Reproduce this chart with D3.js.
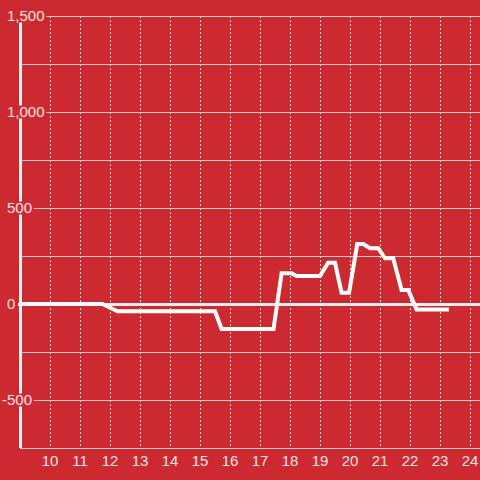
<!DOCTYPE html>
<html>
<head>
<meta charset="utf-8">
<script src="https://cdn.jsdelivr.net/npm/d3@7"></script>
<style>
  html, body { margin: 0; padding: 0; background: #cc2a30; }
  svg { display: block; }
</style>
</head>
<body>
<div id="chart"></div>
<script>
// hours of the day (x) and value (y)
var hours = [9.0, 11.75, 12.25, 15.5, 15.72, 17.45, 17.72, 18.05, 18.22, 19.0, 19.27, 19.5, 19.72, 19.97,
             20.24, 20.44, 20.67, 20.94, 21.17, 21.44, 21.72, 21.94, 22.22, 23.3];
var values = [0, 0, -38, -38, -130, -130, 160, 160, 146, 146, 215, 215, 59, 59,
              312, 312, 290, 290, 238, 238, 73, 73, -28, -28];
var xTicks = [10, 11, 12, 13, 14, 15, 16, 17, 18, 19, 20, 21, 22, 23, 24];
var yTicks = [-500, 0, 500, 1000, 1500];
var yGrid = [-750, -500, -250, 250, 500, 750, 1000, 1250, 1500];

var width = 480, height = 480;
var bg = '#cc2a30';
var font = 'Liberation Sans, Arial, sans-serif';
var margin = {top: 16, left: 20, right: 0, bottom: 32};

var svg = d3.select('#chart').append('svg')
    .attr('width', width)
    .attr('height', height);

svg.append('rect').attr('width', width).attr('height', height).attr('fill', bg);

var x = d3.scaleLinear().domain([9, 24.333]).range([margin.left, width - margin.right]);
var y = d3.scaleLinear().domain([-750, 1500]).range([height - margin.bottom, margin.top]);

// vertical dashed grid
svg.append('g').selectAll('line')
    .data(xTicks)
    .enter().append('line')
    .attr('x1', function (d) { return Math.round(x(d)) + 0.5; })
    .attr('x2', function (d) { return Math.round(x(d)) + 0.5; })
    .attr('y1', y(1500))
    .attr('y2', y(-750))
    .attr('stroke', '#e6e0e0')
    .attr('stroke-width', 1)
    .attr('stroke-dasharray', '2,2');

// horizontal grid
svg.append('g').selectAll('line')
    .data(yGrid)
    .enter().append('line')
    .attr('x1', margin.left)
    .attr('x2', width)
    .attr('y1', function (d) { return Math.round(y(d)) + 0.5; })
    .attr('y2', function (d) { return Math.round(y(d)) + 0.5; })
    .attr('stroke', '#d6cccc')
    .attr('stroke-width', 1);

// y axis line
svg.append('line')
    .attr('x1', margin.left + 0.5).attr('x2', margin.left + 0.5)
    .attr('y1', y(1500)).attr('y2', y(-750))
    .attr('stroke', '#f4eeee')
    .attr('stroke-width', 3);

// zero line
svg.append('line')
    .attr('x1', margin.left - 2).attr('x2', width)
    .attr('y1', Math.round(y(0)) + 0.5).attr('y2', Math.round(y(0)) + 0.5)
    .attr('stroke', '#f4eeee')
    .attr('stroke-width', 3);

// data line
var line = d3.line()
    .x(function (d, i) { return x(hours[i]); })
    .y(function (d) { return y(d); });

svg.append('path')
    .datum(values)
    .attr('d', line)
    .attr('fill', 'none')
    .attr('stroke', '#ffffff')
    .attr('stroke-width', 4)
    .attr('stroke-linejoin', 'miter');

// y labels with background boxes (digits start at x=7, minus hangs left)
var yl = svg.append('g').selectAll('g')
    .data(yTicks)
    .enter().append('g')
    .attr('transform', function (d) { return 'translate(7,' + y(d) + ')'; });
var ytext = yl.append('text')
    .attr('dy', '0.36em')
    .attr('font-family', font)
    .attr('font-size', '15px')
    .attr('fill', '#f4e4e4')
    .text(function (d) { return d3.format(',')(d).replace('\u2212', '-'); });
ytext.each(function (d) {
    var t = d3.select(this);
    if (d < 0) t.attr('x', -this.getSubStringLength(0, 1));
    var b = this.getBBox();
    d3.select(this.parentNode).insert('rect', 'text')
        .attr('x', b.x - 2).attr('y', -6.5)
        .attr('width', b.width + 4).attr('height', 13)
        .attr('fill', bg);
});

// x axis line and labels
svg.append('line')
    .attr('x1', margin.left).attr('x2', width)
    .attr('y1', Math.round(y(-750)) + 0.5).attr('y2', Math.round(y(-750)) + 0.5)
    .attr('stroke', '#d6cccc');

svg.append('g').selectAll('text')
    .data(xTicks)
    .enter().append('text')
    .attr('x', function (d) { return x(d); })
    .attr('y', 461)
    .attr('dy', '0.36em')
    .attr('text-anchor', 'middle')
    .attr('font-family', font)
    .attr('font-size', '15px')
    .attr('fill', '#f4e4e4')
    .text(function (d) { return d; });
</script>
</body>
</html>
